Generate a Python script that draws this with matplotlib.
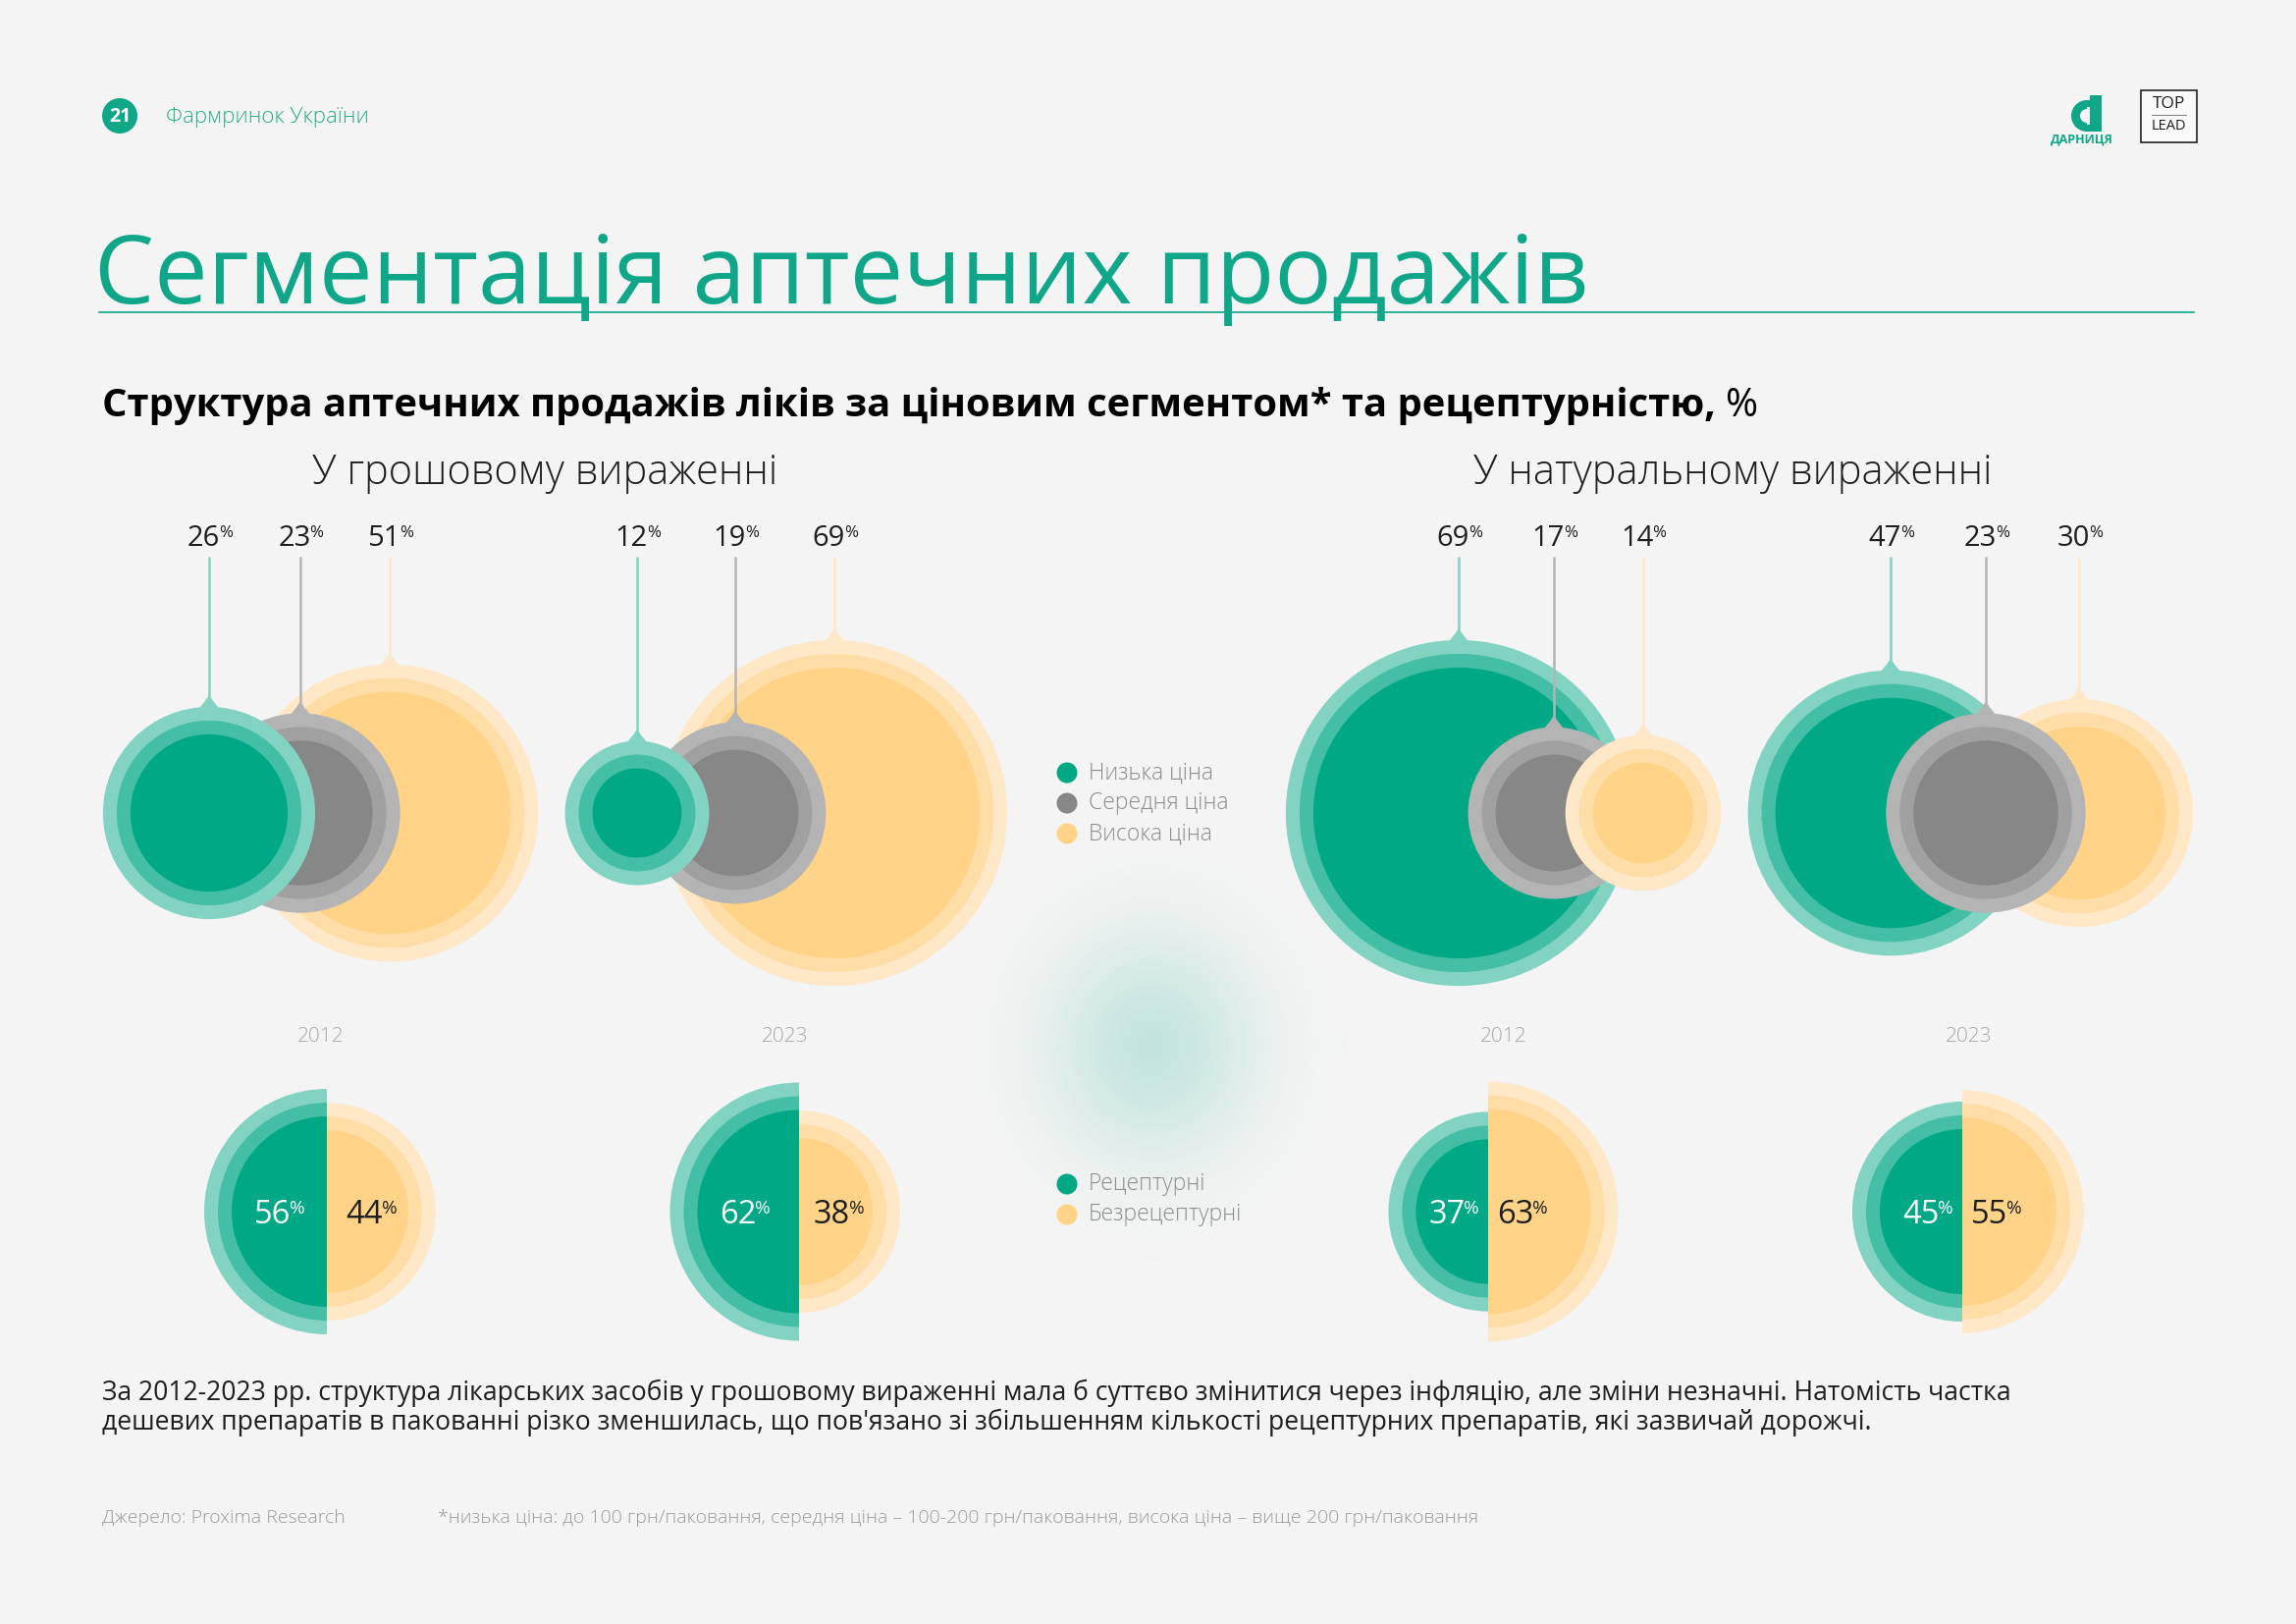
import numpy as np
import matplotlib
matplotlib.use('Agg')
import matplotlib.pyplot as plt
from matplotlib.patches import Circle, Wedge, Polygon, Rectangle

W, H = 2339, 1654
FONT = ['Open Sans', 'DejaVu Sans']

# ---- data (percent shares) ----
price_segments = ['Низька ціна', 'Середня ціна', 'Висока ціна']
rx_segments = ['Рецептурні', 'Безрецептурні']
years = ['2012', '2023', '2012', '2023']
money_2012 = [26, 23, 51]
money_2023 = [12, 19, 69]
units_2012 = [69, 17, 14]
units_2023 = [47, 23, 30]
rx_money_2012 = [56, 44]
rx_money_2023 = [62, 38]
rx_units_2012 = [37, 63]
rx_units_2023 = [45, 55]

# ---- layout (pixels) ----
price_groups = [money_2012, money_2023, units_2012, units_2023]
rx_groups = [rx_money_2012, rx_money_2023, rx_units_2012, rx_units_2023]
group_x = [[213, 306, 397], [649, 749, 850], [1486, 1583, 1674], [1926, 2023, 2118]]
draw_order = [[2, 1, 0], [2, 1, 0], [0, 1, 2], [0, 2, 1]]
bubble_y = 828
rx_x = [333, 814, 1516, 1999]
rx_y = 1234
rx_gaps = [(21, 19), (28, 15), (8, 9), (8, 9)]
year_x = [327, 800, 1532, 2006]
K_BUBBLE = 21.2   # radius per sqrt(%)
K_HALF = 16.7
RING = 14

BG = '#F4F4F4'
GREEN = '#0FA788'
DARK = '#1E1E1E'
rings = [['#82D3C2', '#44BEA4', '#00A885'],
         ['#B4B4B4', '#A0A0A0', '#878787'],
         ['#FFE8C8', '#FFDDA6', '#FFD488']]

fig = plt.figure(figsize=(W / 100, H / 100), dpi=100, facecolor=BG)
ax = fig.add_axes([0, 0, 1, 1])
ax.axis('off')
ax.set_facecolor(BG)
renderer = fig.canvas.get_renderer()


def pct_label(x, y, value, size, color, ha='center'):
    t = ax.text(x, y, str(value), fontsize=size, color=color, va='baseline',
                ha='left', family=FONT, zorder=20)
    p = ax.text(x, y, '%', fontsize=size * 0.58, color=color, va='baseline',
                ha='left', family=FONT, zorder=20)
    w_num = t.get_window_extent(renderer).width
    w_pct = p.get_window_extent(renderer).width
    total = w_num + w_pct
    x0 = {'center': x - total / 2, 'right': x - total, 'left': x}[ha]
    t.set_x(x0)
    rise = 0.72 * size * 100 / 72 * 0.42
    p.set_position((x0 + w_num - 1, y - rise))


def bubble(x, y, r, cols, z):
    top = y - r
    nub = Polygon([(x - 13, top + 5), (x - 4, top - 6), (x, top - 12),
                   (x + 4, top - 6), (x + 13, top + 5)],
                  closed=True, color=cols[0], lw=0, zorder=z)
    ax.add_patch(nub)
    for i, c in enumerate(cols):
        ax.add_patch(Circle((x, y), r - i * RING, color=c, lw=0, zorder=z))
    ax.plot([x, x], [567, top - 10], color=cols[0], lw=1.8, zorder=z - 0.5,
            solid_capstyle='butt')


# soft glow in the middle
gx, gy, gr = 1173, 1065, 260
yy, xx = np.mgrid[-gr:gr, -gr:gr]
d2 = (xx ** 2) / (100.0 ** 2) + (yy ** 2) / (110.0 ** 2)
img = np.zeros((2 * gr, 2 * gr, 4))
img[..., 1] = 168 / 255
img[..., 2] = 133 / 255
img[..., 3] = 0.2 * np.exp(-d2)
ax.imshow(img, extent=[gx - gr, gx + gr, gy + gr, gy - gr], zorder=0.5,
          interpolation='bilinear')
ax.set_xlim(0, W)
ax.set_ylim(H, 0)

# price bubbles
for g, vals in enumerate(price_groups):
    for rank, i in enumerate(draw_order[g]):
        r = K_BUBBLE * np.sqrt(vals[i])
        bubble(group_x[g][i], bubble_y, r, rings[i], 5 + rank * 2)
    for i, v in enumerate(vals):
        pct_label(group_x[g][i] + 1, 556, v, 21, DARK)
    ax.text(year_x[g], 1056, years[g], fontsize=15, color='#A8A8A8',
            ha='center', va='center', family=FONT, weight='light')

# prescription half circles
for g, vals in enumerate(rx_groups):
    cx = rx_x[g]
    for v, cols, t1, t2 in [(vals[0], rings[0], 90, 270),
                            (vals[1], rings[2], -90, 90)]:
        r = K_HALF * np.sqrt(v)
        for i, c in enumerate(cols):
            ax.add_patch(Wedge((cx, rx_y), r - i * RING, t1, t2, color=c,
                               lw=0, zorder=5))
    gl, gr_ = rx_gaps[g]
    pct_label(cx - gl, rx_y + 12, vals[0], 23.5, 'white', ha='right')
    pct_label(cx + gr_, rx_y + 12, vals[1], 23.5, DARK, ha='left')

# legends
for i, name in enumerate(price_segments):
    y = 787 + i * 31
    ax.add_patch(Circle((1087, y), 10.5, color=rings[i][2], lw=0, zorder=6))
    ax.text(1109, y, name, fontsize=16.5, color='#8C8C8C', va='center',
            family=FONT, weight='light')
for i, name in enumerate(rx_segments):
    y = 1206 + i * 31
    ax.add_patch(Circle((1087, y), 10.5, color=rings[2 * i][2], lw=0, zorder=6))
    ax.text(1109, y, name, fontsize=16.5, color='#8C8C8C', va='center',
            family=FONT, weight='light')

# header
ax.add_patch(Circle((122, 118), 18, color=GREEN, lw=0))
ax.text(122, 119, '21', fontsize=14, color='white', weight='bold',
        ha='center', va='center', family=FONT)
ax.text(169, 119, 'Фармринок України', fontsize=16, color='#2BAA8C',
        va='center', family=FONT, weight='light')
# Darnitsa logo
ax.add_patch(Wedge((2126, 118), 16, 90, 270, width=9, color=GREEN, lw=0))
ax.add_patch(Rectangle((2125, 102), 4, 7, color=GREEN, lw=0))
ax.add_patch(Rectangle((2125, 127), 4, 7, color=GREEN, lw=0))
ax.add_patch(Rectangle((2129, 97), 12, 37, color=GREEN, lw=0))
ax.text(2121, 142, 'ДАРНИЦЯ', fontsize=9, color=GREEN, weight='bold',
        ha='center', va='center', family=FONT)
# Top Lead logo
ax.add_patch(Rectangle((2181, 92), 57, 53, facecolor='#FAFAFA',
                       edgecolor='#222222', lw=1.2))
ax.text(2209.5, 106, 'TOP', fontsize=12.5, color=DARK, ha='center',
        va='center', family=FONT)
ax.plot([2192, 2227], [117, 117], color='#888888', lw=0.8)
ax.text(2209.5, 129, 'LEAD', fontsize=10.5, color=DARK, ha='center',
        va='center', family=FONT)

# title
ax.text(96, 309, 'Сегментація аптечних продажів', fontsize=70, color=GREEN,
        va='baseline', family=FONT)
ax.plot([101, 2235], [318, 318], color=GREEN, lw=1.2)

sub = ax.text(104, 424, 'Структура аптечних продажів ліків за ціновим '
              'сегментом* та рецептурністю,', fontsize=28.8, color='black',
              weight='bold', va='baseline', family=FONT)
sw = sub.get_window_extent(renderer).width
ax.text(104 + sw + 10, 424, '%', fontsize=28.8, color='black', va='baseline',
        family=FONT)

ax.text(555, 482, 'У грошовому вираженні', fontsize=30, color=DARK,
        ha='center', va='center', family=FONT, weight='light')
ax.text(1765, 482, 'У натуральному вираженні', fontsize=30, color=DARK,
        ha='center', va='center', family=FONT, weight='light')

# body text
ax.text(104, 1419, 'За 2012-2023 рр. структура лікарських засобів у грошовому '
        'вираженні мала б суттєво змінитися через інфляцію, але зміни незначні. '
        'Натомість частка', fontsize=19.1, color=DARK, va='center', family=FONT)
ax.text(104, 1449, 'дешевих препаратів в пакованні різко зменшилась, що '
        "пов'язано зі збільшенням кількості рецептурних препаратів, які зазвичай "
        'дорожчі.', fontsize=19.1, color=DARK, va='center', family=FONT)

# footer
ax.text(104, 1546, 'Джерело: Proxima Research', fontsize=14, color='#9A9A9A',
        va='center', family=FONT, weight='light')
ax.text(446, 1546, '*низька ціна: до 100 грн/паковання, середня ціна – 100-200 '
        'грн/паковання, висока ціна – вище 200 грн/паковання', fontsize=14,
        color='#9A9A9A', va='center', family=FONT, weight='light')

fig.savefig('out.png', dpi=100, facecolor=BG)
